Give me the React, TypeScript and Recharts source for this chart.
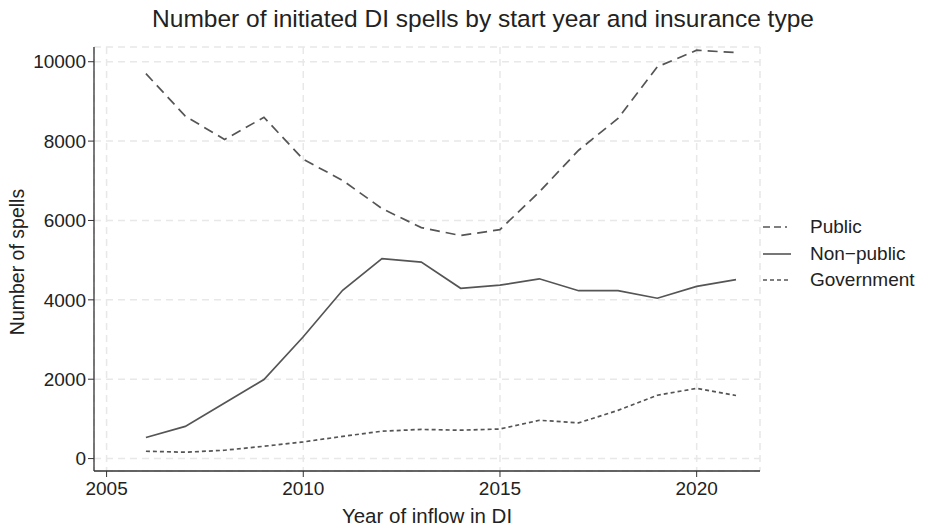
import { LineChart, Line, XAxis, YAxis, CartesianGrid, Label } from 'recharts';

const years = [2006, 2007, 2008, 2009, 2010, 2011, 2012, 2013, 2014, 2015, 2016, 2017, 2018, 2019, 2020, 2021];
const publicSpells = [9700, 8630, 8040, 8600, 7540, 7010, 6300, 5820, 5620, 5770, 6720, 7770, 8570, 9870, 10290, 10230];
const nonPublicSpells = [530, 810, 1400, 1990, 3070, 4240, 5040, 4950, 4290, 4370, 4530, 4230, 4230, 4040, 4340, 4510];
const governmentSpells = [185, 160, 210, 310, 420, 560, 690, 735, 715, 745, 965, 900, 1215, 1595, 1770, 1590];

const xTicks = [2005, 2010, 2015, 2020];
const yTicks = [0, 2000, 4000, 6000, 8000, 10000];

const series = [
  { key: 'public', name: 'Public', dash: '10 6', legendDash: '7 4 7 4 2 30' },
  { key: 'nonPublic', name: 'Non\u2212public', dash: undefined, legendDash: undefined },
  { key: 'government', name: 'Government', dash: '4 3', legendDash: '4 3' },
];

const data = years.map((year, i) => ({
  year,
  public: publicSpells[i],
  nonPublic: nonPublicSpells[i],
  government: governmentSpells[i],
}));

const FONT = '"Liberation Sans", Arial, Helvetica, sans-serif';
const LINE = '#555555';
const TEXT = '#222222';

// rotated y axis title, placed by hand in the left margin
const YTitle = (props: any) => {
  const { viewBox } = props;
  const cy = viewBox.y + viewBox.height / 2 + 3;
  const cx = 17;
  return (
    <text
      x={cx}
      y={cy}
      transform={`rotate(-90, ${cx}, ${cy})`}
      textAnchor="middle"
      dominantBaseline="central"
      style={{ fontSize: 19.5, fill: TEXT, fontFamily: FONT }}
    >
      Number of spells
    </text>
  );
};

export default function App() {
  return (
    <div style={{ position: 'absolute', left: 0, top: 0, width: 925, height: 529, background: '#fff', fontFamily: FONT }}>
      <div
        style={{
          position: 'absolute',
          left: 0,
          top: 5,
          width: 966,
          textAlign: 'center',
          fontSize: 24.5,
          color: TEXT,
        }}
      >
        Number of initiated DI spells by start year and insurance type
      </div>
      <LineChart width={925} height={529} data={data} margin={{ top: 47, right: 165, bottom: 0, left: 0 }}>
        <CartesianGrid stroke="#e8e8e8" strokeDasharray="7 5" strokeWidth={1.5} />
        <XAxis
          dataKey="year"
          type="number"
          domain={[2004.68, 2021.61]}
          ticks={xTicks}
          allowDataOverflow
          height={58}
          tick={{ fontSize: 19, fill: TEXT, fontFamily: FONT, dy: 3 }}
          tickSize={6}
          stroke="#333"
          axisLine={{ stroke: '#333', strokeWidth: 1.3 }}
        >
          <Label value="Year of inflow in DI" position="insideBottom" offset={6} style={{ fontSize: 20.5, fill: TEXT, fontFamily: FONT }} />
        </XAxis>
        <YAxis
          type="number"
          domain={[-313, 10371]}
          ticks={yTicks}
          allowDataOverflow
          width={94}
          tick={{ fontSize: 19, fill: TEXT, fontFamily: FONT }}
          tickSize={6}
          stroke="#333"
          axisLine={{ stroke: '#333', strokeWidth: 1.3 }}
        >
          <Label content={YTitle} />
        </YAxis>
        {series.map(s => (
          <Line
            key={s.key}
            type="linear"
            dataKey={s.key}
            name={s.name}
            stroke={LINE}
            strokeWidth={1.7}
            strokeDasharray={s.dash}
            dot={false}
            activeDot={false}
            isAnimationActive={false}
          />
        ))}
      </LineChart>
      <div style={{ position: 'absolute', left: 762, top: 214 }}>
        {series.map(s => (
          <div key={s.key} style={{ display: 'flex', alignItems: 'center', height: 26.5 }}>
            <svg width={44} height={10} style={{ marginRight: 4 }}>
              <line x1={1} y1={5} x2={29} y2={5} stroke={LINE} strokeWidth={1.6} strokeDasharray={s.legendDash} />
            </svg>
            <span style={{ fontSize: 19, color: TEXT }}>{s.name}</span>
          </div>
        ))}
      </div>
    </div>
  );
}
